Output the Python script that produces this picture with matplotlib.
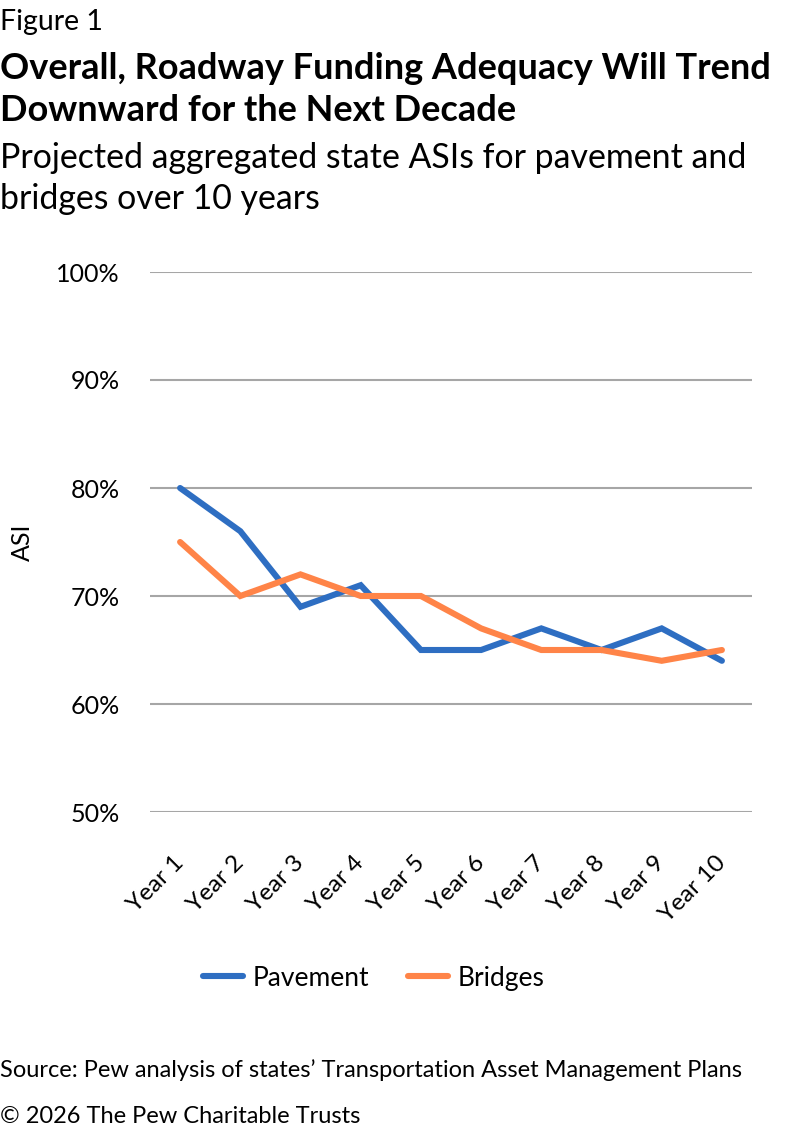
import matplotlib
matplotlib.use("Agg")
import matplotlib.pyplot as plt
from matplotlib.ticker import FuncFormatter

plt.rcParams['font.family'] = ['Lato', 'DejaVu Sans']

years = ['Year 1', 'Year 2', 'Year 3', 'Year 4', 'Year 5',
         'Year 6', 'Year 7', 'Year 8', 'Year 9', 'Year 10']
pavement = [80, 76, 69, 71, 65, 65, 67, 65, 67, 64]
bridges = [75, 70, 72, 70, 70, 67, 65, 65, 64, 65]
yticks = [50, 60, 70, 80, 90, 100]

W, H = 792, 1134
fig = plt.figure(figsize=(W / 100, H / 100), dpi=100)
ax = fig.add_axes([150 / W, 1 - 812 / H, 602 / W, 540 / H])

x = list(range(len(years)))
ax.plot(x, pavement, color='#2E6EC2', lw=4.4, label='Pavement',
        solid_capstyle='round', solid_joinstyle='miter')
ax.plot(x, bridges, color='#FF8448', lw=4.4, label='Bridges',
        solid_capstyle='round', solid_joinstyle='miter')

ax.set_xlim(-0.5, 9.5)
ax.set_ylim(50, 100)
ax.set_yticks(yticks)
ax.yaxis.set_major_formatter(FuncFormatter(lambda v, p: f'{v:.0f}%'))
ax.grid(axis='y', color='#A6A6A6', lw=1.5)
ax.set_axisbelow(True)
for s in ax.spines.values():
    s.set_visible(False)
ax.tick_params(axis='both', length=0)
ax.tick_params(axis='y', pad=22, labelsize=18)
ax.set_xticks(x)
ax.set_xticklabels(years, rotation=45, ha='right', va='center',
                   rotation_mode='anchor', fontsize=17.5)
ax.tick_params(axis='x', pad=34)
ax.set_ylabel('ASI', fontsize=18, labelpad=16)

leg = ax.legend(loc='center', bbox_to_anchor=(0.372, -0.3075), ncol=2,
                frameon=False, fontsize=19, handlelength=1.5,
                columnspacing=1.45, handletextpad=0.4)

def put(y_px, s, **kw):
    fig.text(0.0, 1 - y_px / H, s, va='baseline', **kw)

put(30, 'Figure 1', fontsize=20.5)
put(79, 'Overall, Roadway Funding Adequacy Will Trend', fontsize=26, fontweight='bold')
put(121, 'Downward for the Next Decade', fontsize=26, fontweight='bold')
put(168, 'Projected aggregated state ASIs for pavement and', fontsize=24.4)
put(209, 'bridges over 10 years', fontsize=24.4)
put(1077, 'Source: Pew analysis of states\u2019 Transportation Asset Management Plans', fontsize=17)
put(1123, '\u00a9 2026 The Pew Charitable Trusts', fontsize=17)

fig.savefig('out.png', dpi=100)
